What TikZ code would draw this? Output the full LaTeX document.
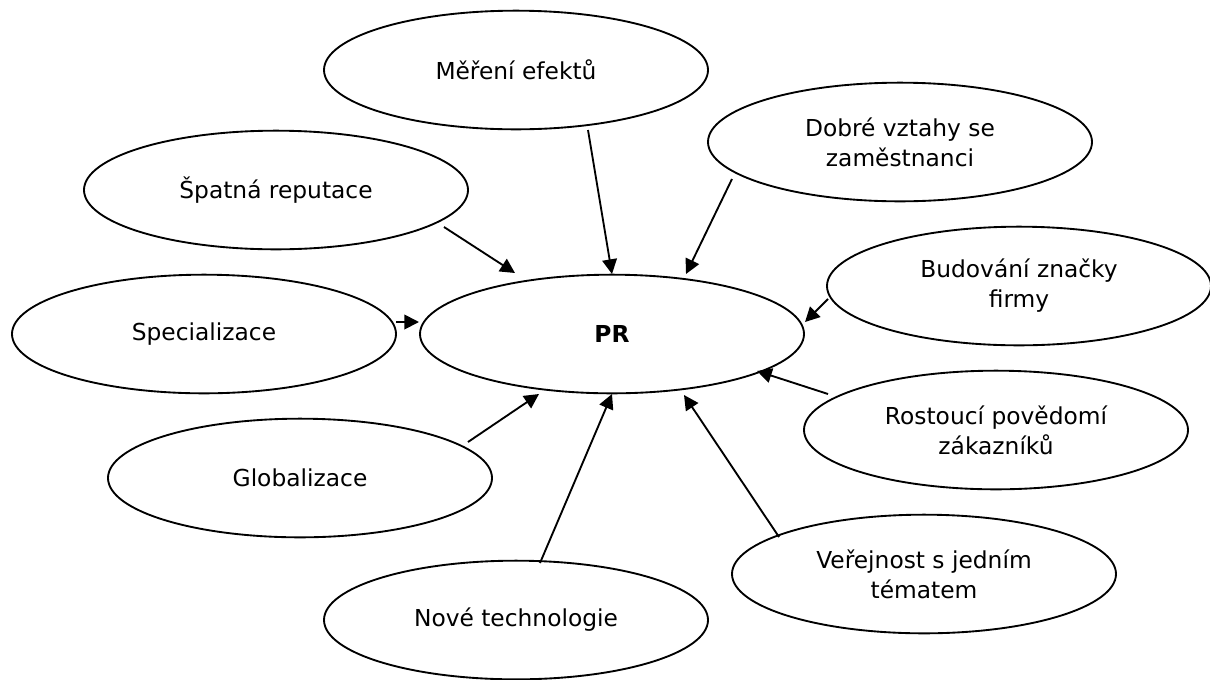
\documentclass[tikz,border=0pt]{standalone}
\usepackage{fontspec}
\setmainfont{DejaVu Sans}
\usetikzlibrary{shapes.geometric,arrows.meta}
\begin{document}
\begin{tikzpicture}[x=0.75pt,y=-0.75pt,
  bubble/.style={ellipse,draw=black,line width=1.4pt,minimum width=288pt,minimum height=89pt,
    inner sep=0pt,outer sep=0pt,align=center,font=\fontsize{17.5pt}{22.5pt}\selectfont},
  conn/.style={line width=1.4pt,-{Triangle[length=11pt,width=11pt]}}]
\useasboundingbox (0,0) rectangle (1210,679);
\node[bubble] (pr)   at (612,334) {\textbf{PR}};
\node[bubble] (mer)  at (516,70)  {Měření efektů};
\node[bubble] (dob)  at (900,142) {Dobré vztahy se\\zaměstnanci};
\node[bubble] (spa)  at (276,190) {Špatná reputace};
\node[bubble] (bud)  at (1019,286) {Budování značky\\firmy};
\node[bubble] (spe)  at (204,334) {Specializace};
\node[bubble] (ros)  at (996,430) {Rostoucí povědomí\\zákazníků};
\node[bubble] (glo)  at (300,478) {Globalizace};
\node[bubble] (ver)  at (924,574) {Veřejnost s jedním\\tématem};
\node[bubble] (nov)  at (516,620) {Nové technologie};
% connector end points
\coordinate (mer-s) at (588,130);  \coordinate (mer-e) at (612,274);
\coordinate (dob-s) at (732,179);  \coordinate (dob-e) at (686,274);
\coordinate (spa-s) at (444,227);  \coordinate (spa-e) at (515,273);
\coordinate (bud-s) at (828,299);  \coordinate (bud-e) at (805,322);
\coordinate (spe-s) at (396,322);  \coordinate (spe-e) at (419,322);
\coordinate (ros-s) at (828,394);  \coordinate (ros-e) at (757,371);
\coordinate (glo-s) at (468,442);  \coordinate (glo-e) at (539,394);
\coordinate (ver-s) at (779,537);  \coordinate (ver-e) at (684,395);
\coordinate (nov-s) at (540,563);  \coordinate (nov-e) at (612,394);
\draw[conn] (mer-s) -- (mer-e);
\draw[conn] (dob-s) -- (dob-e);
\draw[conn] (spa-s) -- (spa-e);
\draw[conn] (bud-s) -- (bud-e);
\draw[conn] (spe-s) -- (spe-e);
\draw[conn] (ros-s) -- (ros-e);
\draw[conn] (glo-s) -- (glo-e);
\draw[conn] (ver-s) -- (ver-e);
\draw[conn] (nov-s) -- (nov-e);
\end{tikzpicture}
\end{document}
